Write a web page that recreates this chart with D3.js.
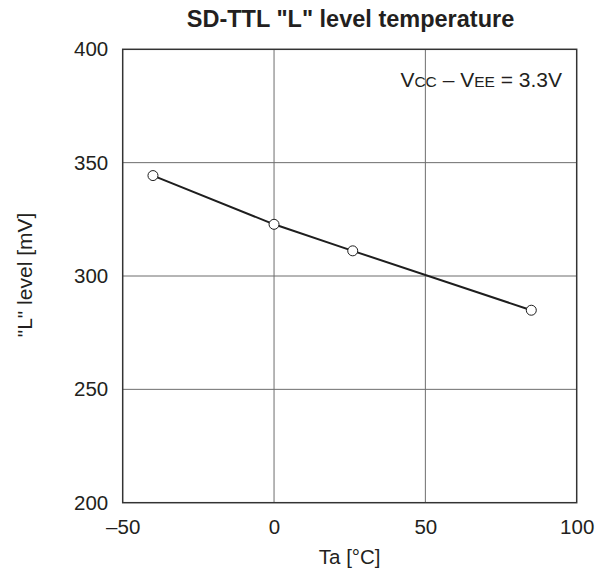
<!DOCTYPE html>
<html><head><meta charset="utf-8">
<script src="https://cdn.jsdelivr.net/npm/d3@7"></script>
<style>body{margin:0;background:#fff}svg{display:block}text{font-family:"Liberation Sans",Arial,sans-serif;fill:#231f20}</style>
</head><body>
<script>
const temps = [-40, 0, 26, 85];
const levels = [344.3, 322.8, 311.1, 284.9];
const xTicks = [-50, 0, 50, 100];
const yTicks = [200, 250, 300, 350, 400];
const title = 'SD-TTL "L" level temperature';
const xLabel = 'Ta [°C]';
const yLabel = '"L" level [mV]';

const W = 607, H = 575;
const m = {left: 122.7, right: 576.7, top: 49.3, bottom: 502.7};
const svg = d3.select("body").append("svg").attr("width", W).attr("height", H);
const x = d3.scaleLinear().domain([-50, 100]).range([m.left, m.right]);
const y = d3.scaleLinear().domain([200, 400]).range([m.bottom, m.top]);
const FONT = '"Liberation Sans",Arial,sans-serif';

// grid
svg.append("g").selectAll("line").data(xTicks.slice(1, -1)).join("line")
  .attr("x1", d => x(d)).attr("x2", d => x(d)).attr("y1", m.top).attr("y2", m.bottom)
  .attr("stroke", "#6d6d6d").attr("stroke-width", 1);
svg.append("g").selectAll("line").data(yTicks.slice(1, -1)).join("line")
  .attr("y1", d => y(d)).attr("y2", d => y(d)).attr("x1", m.left).attr("x2", m.right)
  .attr("stroke", "#6d6d6d").attr("stroke-width", 1);

// axes
const xAxis = svg.append("g").attr("transform", `translate(0,${m.bottom})`)
  .call(d3.axisBottom(x).tickValues(xTicks).tickSize(0).tickPadding(0).tickFormat(d => d < 0 ? "\u2013" + Math.abs(d) : d));
xAxis.select(".domain").remove();
xAxis.selectAll("text").attr("font-size", 20.5).attr("dy", null).attr("y", 31.5).attr("fill", "#231f20")
  .attr("font-family", FONT);
const yAxis = svg.append("g").attr("transform", `translate(${m.left},0)`)
  .call(d3.axisLeft(y).tickValues(yTicks).tickSize(0).tickPadding(14.5));
yAxis.select(".domain").remove();
yAxis.selectAll("text").attr("font-size", 20.5).attr("fill", "#231f20")
  .attr("font-family", FONT);

// frame
svg.append("rect").attr("x", m.left).attr("y", m.top)
  .attr("width", m.right - m.left).attr("height", m.bottom - m.top)
  .attr("fill", "none").attr("stroke", "#333").attr("stroke-width", 1.5);

// line
const pts = temps.map((t, i) => [t, levels[i]]);
svg.append("path").datum(pts)
  .attr("d", d3.line().x(d => x(d[0])).y(d => y(d[1])))
  .attr("fill", "none").attr("stroke", "#1e1e1e").attr("stroke-width", 2);
svg.append("g").selectAll("circle").data(pts).join("circle")
  .attr("cx", d => x(d[0])).attr("cy", d => y(d[1])).attr("r", 5)
  .attr("fill", "#fff").attr("stroke", "#1e1e1e").attr("stroke-width", 1);

// title & labels
svg.append("text").attr("x", 350.5).attr("y", 27).attr("text-anchor", "middle")
  .attr("font-size", 23.5).attr("font-weight", "bold").text(title);
svg.append("text").attr("x", 349.7).attr("y", 564).attr("text-anchor", "middle")
  .attr("font-size", 20.5).text(xLabel);
svg.append("text").attr("transform", "translate(32,275) rotate(-90)").attr("text-anchor", "middle")
  .attr("font-size", 21).text(yLabel);

// annotation
const ann = svg.append("text").attr("x", 562).attr("y", 87).attr("text-anchor", "end").attr("font-size", 21);
ann.append("tspan").text("V");
ann.append("tspan").attr("font-size", 15.5).text("CC");
ann.append("tspan").text(" \u2013 V");
ann.append("tspan").attr("font-size", 15.5).text("EE");
ann.append("tspan").text(" = 3.3V");
</script>
</body></html>
